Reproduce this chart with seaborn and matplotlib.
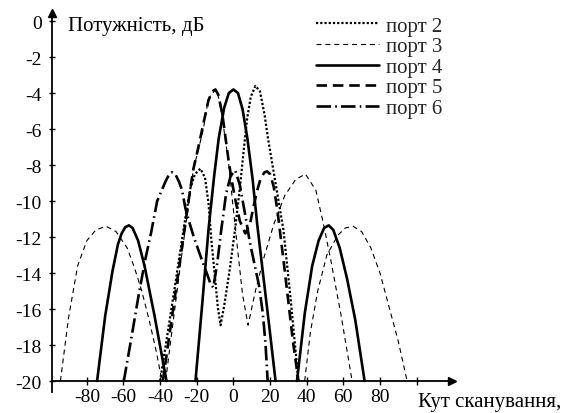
import matplotlib
matplotlib.use("Agg")
import matplotlib.pyplot as plt
from matplotlib.lines import Line2D
import pandas as pd
import seaborn as sns

# Scan angle (deg) and power (dB) for each port, one list per lobe
port2_angle = [[-40, -36, -32, -28, -26, -23.5, -21, -18, -15.5, -13.6, -12, -10, -8.5, -7,
                -5, -2, 1, 3.5, 5.5, 7.5, 9.5, 12, 14.5, 17, 19, 23, 27.3, 31, 35.5]]
port2_db = [[-20, -17.4, -14.8, -12.1, -10.8, -9.3, -8.5, -8.2, -8.7, -10.1, -12.2, -14.3, -15.9, -16.9,
             -15.8, -13.8, -11.5, -9.3, -7.3, -5.4, -4.2, -3.6, -3.9, -5.2, -6.6, -9.0, -11.6, -15.2, -20]]

port3_angle = [[-94.4, -90, -85, -80, -75, -69.5, -64, -58, -54, -50, -46, -42, -39],
               [-37, -33, -29, -25, -21.8, -19, -16.4, -13.6, -9.8, -8.2, -6, -4.4, -2.7, -0.5,
                2.3, 5, 8, 12, 16.5, 22, 28, 34, 39.3, 45, 49, 53, 58.5, 64.8],
               [38.9, 42, 46, 51, 57, 61, 65.3, 70, 75, 80, 85, 90, 94.8]]
port3_db = [[-20, -16.5, -13.6, -12.2, -11.6, -11.4, -11.7, -12.6, -13.7, -15.0, -16.6, -18.4, -20],
            [-20, -16.8, -13.6, -10.6, -8.2, -7.1, -6.0, -4.3, -3.8, -4.2, -5.4, -6.6, -7.8, -10.0,
             -12.7, -15.2, -16.9, -15.0, -13.2, -11.3, -9.7, -8.8, -8.5, -9.4, -11.2, -13.2, -16.2, -20],
            [-20, -17.3, -15.0, -13.0, -11.9, -11.5, -11.4, -11.7, -12.6, -14.0, -15.9, -17.8, -20]]

port4_angle = [[-74.4, -70, -66, -63, -61, -59, -57, -55, -52, -48.5, -43, -36.5],
               [-20.7, -17, -13.6, -10.5, -8, -5, -2.5, 0, 2.5, 5, 7.6, 10.5, 13, 16, 19.5, 23],
               [34.7, 39, 43, 46.5, 49.5, 52, 54.5, 58, 62, 66.5, 71.6]]
port4_db = [[-20, -16.4, -13.9, -12.4, -11.8, -11.45, -11.35, -11.5, -12.2, -13.6, -16.4, -20],
            [-20, -15.7, -11.6, -8.6, -6.5, -4.8, -4.0, -3.8, -4.0, -4.9, -6.5, -8.8, -11.3, -13.9, -16.9, -20],
            [-20, -16.2, -13.6, -12.2, -11.5, -11.35, -11.6, -12.6, -14.3, -16.6, -20]]

port5_angle = [[-38.5, -34, -30.5, -27, -23.5, -21.8, -19.1, -16.4, -13.6, -11.5, -9.8, -8.2, -6, -4.4,
                -2.7, -1, 1, 3.5, 6.5, 9, 11, 13, 15, 17, 18.4, 20, 22, 24, 27, 30, 32.5, 35.5]]
port5_db = [[-20, -16.8, -14.3, -11.8, -9.3, -8.2, -7.0, -5.7, -4.4, -3.9, -3.8, -4.1, -5.2, -6.4,
             -7.7, -8.8, -9.9, -11.1, -11.8, -11.3, -10.3, -9.4, -8.7, -8.4, -8.35, -8.5, -9.2, -10.5,
             -13.0, -15.6, -17.8, -20]]

port6_angle = [[-59.8, -55.5, -51.5, -48, -45, -41.6, -37, -35, -33.5, -31.5, -29.8, -28, -26.2, -24,
                -21.6, -18.5, -16.4, -14.2, -12.5, -11, -9, -6.5, -4, -1.5, 1, 3.5, 6.5, 9, 11.5,
                14, 16, 17.5, 18.7]]
port6_db = [[-20, -17.5, -15.1, -13.2, -11.8, -10.0, -8.9, -8.5, -8.4, -8.55, -8.9, -9.4, -10.4, -11.2,
             -12.0, -12.9, -13.5, -14.1, -14.6, -14.8, -13.6, -11.5, -9.6, -8.6, -8.3, -9.1, -10.8,
             -12.3, -13.5, -14.7, -16.2, -17.9, -20]]

port_names = ["порт 2", "порт 3", "порт 4", "порт 5", "порт 6"]
y_ticks = [0, -2, -4, -6, -8, -10, -12, -14, -16, -18, -20]
y_ticklabels = ["0", "-2", "-4", "-6", "-8", "-10", "-12", "-14", "-16", "-18", "-20"]
x_ticks = [-80, -60, -40, -20, 0, 20, 40, 60, 80, 100]
x_ticklabels = ["-80", "-60", "-40", "-20", "0", "20", "40", "60", "80", ""]
y_title = "Потужність, дБ"
x_title = "Кут сканування,"

series = {
    "порт 2": (port2_angle, port2_db),
    "порт 3": (port3_angle, port3_db),
    "порт 4": (port4_angle, port4_db),
    "порт 5": (port5_angle, port5_db),
    "порт 6": (port6_angle, port6_db),
}

rows = []
for name, (angles, dbs) in series.items():
    for k, (a_list, d_list) in enumerate(zip(angles, dbs)):
        for a, d in zip(a_list, d_list):
            rows.append({"port": name, "lobe": k, "angle": a, "db": d})
df = pd.DataFrame(rows)

styles = {
    "порт 2": dict(lw=1.6, ls=(0, (1.0, 0.9))),
    "порт 3": dict(lw=0.8, ls=(0, (4.5, 3.5))),
    "порт 4": dict(lw=1.9, ls="-"),
    "порт 5": dict(lw=1.9, ls=(0, (4.0, 2.2))),
    "порт 6": dict(lw=1.9, ls=(0, (5.5, 1.6, 0.6, 1.6))),
}

sns.set_theme(style="white")
plt.rcParams["font.family"] = ["Liberation Serif", "DejaVu Serif"]
plt.rcParams["axes.unicode_minus"] = False

TEXT_SIZE = 15
TICK_SIZE = 14

fig = plt.figure(figsize=(5.74, 4.14), dpi=100)
ax = fig.add_axes([52 / 574, 21 / 414, 400 / 574, 379 / 414])

for name in port_names:
    st = styles[name]
    sns.lineplot(data=df[df["port"] == name], x="angle", y="db", units="lobe",
                 estimator=None, color="black", linewidth=st["lw"], linestyle=st["ls"],
                 ax=ax, legend=False)

ax.set_xlim(-99, 119.3)
ax.set_ylim(-20.61, 0.45)
ax.set_xlabel("")
ax.set_ylabel("")

for side in ("top", "right"):
    ax.spines[side].set_visible(False)
ax.spines["left"].set_color("black")
ax.spines["left"].set_linewidth(1.3)
ax.spines["bottom"].set_color("black")
ax.spines["bottom"].set_linewidth(1.3)
ax.spines["bottom"].set_position(("data", -20))

ax.set_yticks(y_ticks)
ax.set_yticklabels(y_ticklabels)
ax.set_xticks(x_ticks)
ax.set_xticklabels(x_ticklabels)
ax.tick_params(axis="y", direction="inout", length=5, width=1, color="black",
               labelsize=TICK_SIZE, pad=5, left=True)
ax.tick_params(axis="x", direction="inout", length=6, width=1, color="black",
               labelsize=TICK_SIZE, pad=2, bottom=True)
for lab in ax.get_xticklabels() + ax.get_yticklabels():
    lab.set_color("black")

# arrow heads at the ends of both axes
ax.plot([0], [1], marker="^", ms=6, color="black", transform=ax.transAxes, clip_on=False)
ax.plot([1], [(-20 - (-20.61)) / (0.45 + 20.61)], marker=">", ms=6, color="black",
        transform=ax.transAxes, clip_on=False)

fig.text(68 / 574, 1 - 31 / 414, y_title, fontsize=TEXT_SIZE, va="baseline", ha="left", color="black")
fig.text(418 / 574, 1 - 407 / 414, x_title, fontsize=TEXT_SIZE, va="baseline", ha="left", color="black")

handles = [Line2D([], [], color="black", linewidth=styles[n]["lw"], linestyle=styles[n]["ls"])
           for n in port_names]
fig.legend(handles, port_names, loc="upper left", bbox_to_anchor=(316 / 574, 1 - 17 / 414),
           bbox_transform=fig.transFigure, frameon=False, fontsize=TEXT_SIZE, handlelength=3.0,
           handletextpad=0.38, labelspacing=0.05, borderpad=0, borderaxespad=0)

fig.savefig("out.png", dpi=100, facecolor="white")
